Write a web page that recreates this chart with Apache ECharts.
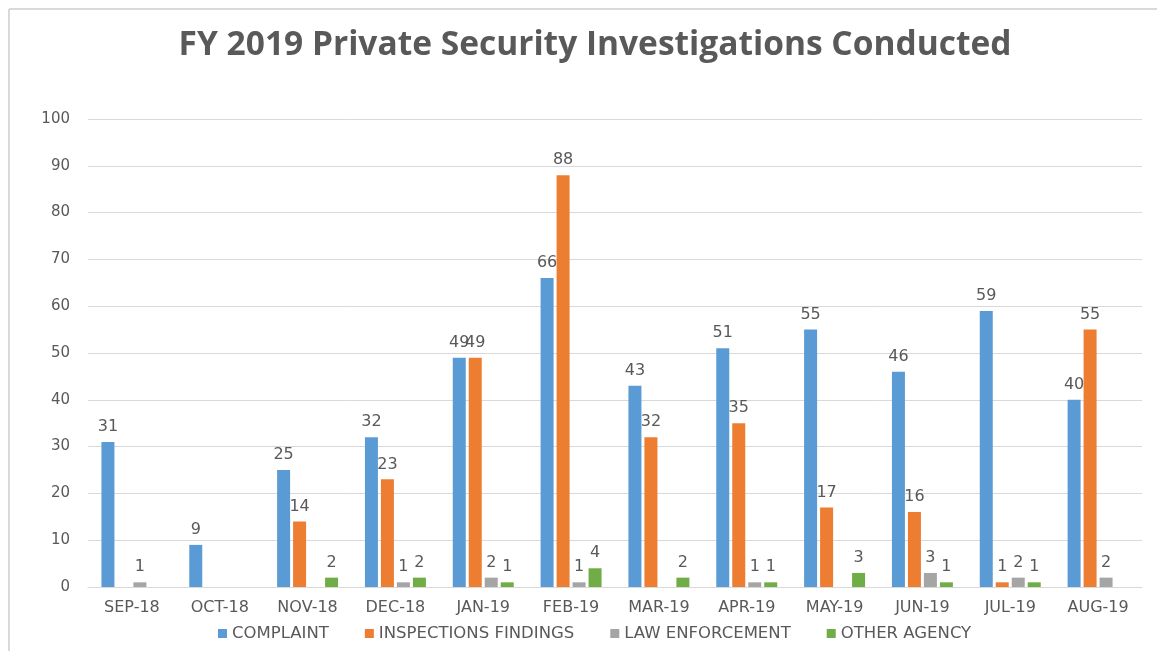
<!DOCTYPE html>
<html>
<head>
<meta charset="utf-8">
<script src="https://cdn.jsdelivr.net/npm/echarts@6/dist/echarts.min.js"></script>
<style>html,body{margin:0;padding:0;background:#fff;}#c{width:1157px;height:651px;}</style>
</head>
<body>
<div id="c"></div>
<script>
const categories = ['SEP-18','OCT-18','NOV-18','DEC-18','JAN-19','FEB-19','MAR-19','APR-19','MAY-19','JUN-19','JUL-19','AUG-19'];
const complaint = [31, 9, 25, 32, 49, 66, 43, 51, 55, 46, 59, 40];
const inspections = [null, null, 14, 23, 49, 88, 32, 35, 17, 16, 1, 55];
const lawEnforcement = [1, null, null, 1, 2, 1, null, 1, null, 3, 2, 2];
const otherAgency = [null, null, 2, 2, 1, 4, 2, 1, 3, 1, 1, null];
const seriesNames = ['COMPLAINT','INSPECTIONS FINDINGS','LAW ENFORCEMENT','OTHER AGENCY'];
const yTicks = [0, 100, 10];

const colors = ['#5B9BD5','#ED7D31','#A5A5A5','#70AD47'];
const txt = '#595959';
const font = 'DejaVu Sans';

const chart = echarts.init(document.getElementById('c'));
function mk(name, data, i) {
  return {
    name: name, type: 'bar', data: data,
    barWidth: 13, barGap: '23%',
    itemStyle: { color: colors[i] },
    label: { show: true, position: 'top', distance: 7, color: txt, fontFamily: font, fontSize: 16 }
  };
}
chart.setOption({
  animation: false,
  color: colors,
  title: {
    text: 'FY 2019 Private Security Investigations Conducted',
    left: 590, textAlign: 'center', top: 23,
    textStyle: { fontFamily: 'Open Sans', fontWeight: 'bold', fontSize: 33.5, color: txt }
  },
  graphic: [
    { type: 'line', shape: { x1: 9, y1: 9, x2: 1157, y2: 9 }, style: { stroke: '#d9d9d9', lineWidth: 2 } },
    { type: 'line', shape: { x1: 9, y1: 9, x2: 9, y2: 651 }, style: { stroke: '#d9d9d9', lineWidth: 2 } }
  ],
  legend: {
    bottom: 4, left: 213,
    icon: 'rect', itemWidth: 9, itemHeight: 9, itemGap: 36,
    textStyle: { fontFamily: font, fontSize: 16.5, color: txt },
    data: seriesNames
  },
  grid: { left: 88, right: 15, top: 119, bottom: 64 },
  xAxis: {
    type: 'category', data: categories,
    axisTick: { show: false },
    axisLine: { lineStyle: { color: '#d9d9d9', width: 1 } },
    axisLabel: { fontFamily: font, fontSize: 16, color: txt, margin: 13 }
  },
  yAxis: {
    type: 'value', min: yTicks[0], max: yTicks[1], interval: yTicks[2],
    axisLine: { show: false }, axisTick: { show: false },
    splitLine: { lineStyle: { color: '#d9d9d9', width: 1 } },
    axisLabel: { fontFamily: font, fontSize: 15, color: txt, margin: 18 }
  },
  series: [
    mk(seriesNames[0], complaint, 0),
    mk(seriesNames[1], inspections, 1),
    mk(seriesNames[2], lawEnforcement, 2),
    mk(seriesNames[3], otherAgency, 3)
  ]
});
</script>
</body>
</html>
